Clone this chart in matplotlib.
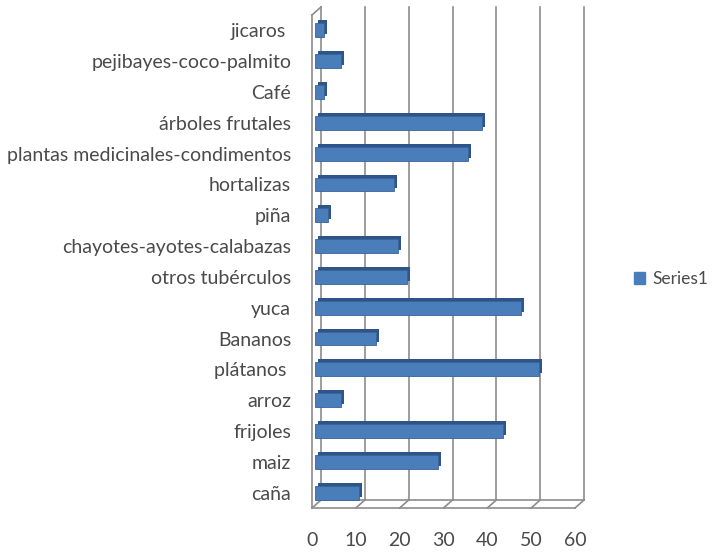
import matplotlib.pyplot as plt
import matplotlib.transforms as mtransforms
from matplotlib.patches import Patch

# datos (de abajo hacia arriba)
cultivos = ['caña', 'maiz', 'frijoles', 'arroz', 'plátanos ', 'Bananos', 'yuca',
            'otros tubérculos', 'chayotes-ayotes-calabazas', 'piña', 'hortalizas',
            'plantas medicinales-condimentos', 'árboles frutales', 'Café',
            'pejibayes-coco-palmito', 'jicaros ']
valores = [10, 28, 43, 6, 51, 14, 47, 21, 19, 3, 18, 35, 38, 2, 6, 2]
ticks_x = [0, 10, 20, 30, 40, 50, 60]

plt.rcParams['font.family'] = ['Lato', 'DejaVu Sans']

fig = plt.figure(figsize=(7.14, 5.53), dpi=100)
ax = fig.add_axes([312 / 714, 45 / 553, 263 / 714, 493 / 553])
ax.set_xlim(0, 60)
ax.set_ylim(-0.5, len(cultivos) - 0.5)

# plano trasero desplazado (efecto 3D)
back = ax.transData + mtransforms.ScaledTranslation(9 / 100, 8 / 100, fig.dpi_scale_trans)
gris = '#8c8c8c'
y0, y1 = -0.5, len(cultivos) - 0.5
for t in ticks_x:
    ax.plot([t, t], [y0, y1], color=gris, lw=1.2, transform=back, clip_on=False, zorder=1)
ax.plot([0, 60], [y0, y0], color=gris, lw=1.2, transform=back, clip_on=False, zorder=1)
# suelo y pared izquierda
ax.plot([0, 60], [y0, y0], color=gris, lw=1.2, clip_on=False, zorder=1)
ax.plot([0, 0], [y0, y1], color=gris, lw=1.2, clip_on=False, zorder=1)
for t in ticks_x:
    p0 = ax.transData.transform((t, y0))
    ax.plot([p0[0], p0[0] + 9], [p0[1], p0[1] + 8], color=gris, lw=1.2,
            transform=None, clip_on=False, zorder=1)
pt = ax.transData.transform((0, y1))
ax.plot([pt[0], pt[0] + 9], [pt[1], pt[1] + 8], color=gris, lw=1.2,
        transform=None, clip_on=False, zorder=1)

# barras con profundidad
pos = range(len(cultivos))
front = ax.transData + mtransforms.ScaledTranslation(3 / 100, 0, fig.dpi_scale_trans)
depth = ax.transData + mtransforms.ScaledTranslation(6 / 100, 3 / 100, fig.dpi_scale_trans)
ax.barh(pos, valores, height=0.45, color='#2f5487', transform=depth, zorder=2)
ax.barh(pos, valores, height=0.45, color='#4a7ebb', edgecolor='#3a639a', lw=0.6,
        transform=front, zorder=3)

ax.set_yticks(list(pos))
ax.set_yticklabels(cultivos)
ax.set_xticks(ticks_x)
for s in ax.spines.values():
    s.set_visible(False)
ax.tick_params(axis='y', length=0, pad=15, labelsize=14, labelcolor='#4a4a4a')
ax.tick_params(axis='x', length=0, pad=17, labelsize=14, labelcolor='#4a4a4a')

fig.legend(handles=[Patch(color='#4a7ebb', label='Series1')], loc='center left',
           bbox_to_anchor=(634 / 714, 1 - 279 / 553), frameon=False,
           borderpad=0, borderaxespad=0,
           handlelength=0.65, handleheight=0.65, handletextpad=0.4,
           fontsize=12.5, labelcolor='#4a4a4a')

fig.savefig('out.png', dpi=100)
